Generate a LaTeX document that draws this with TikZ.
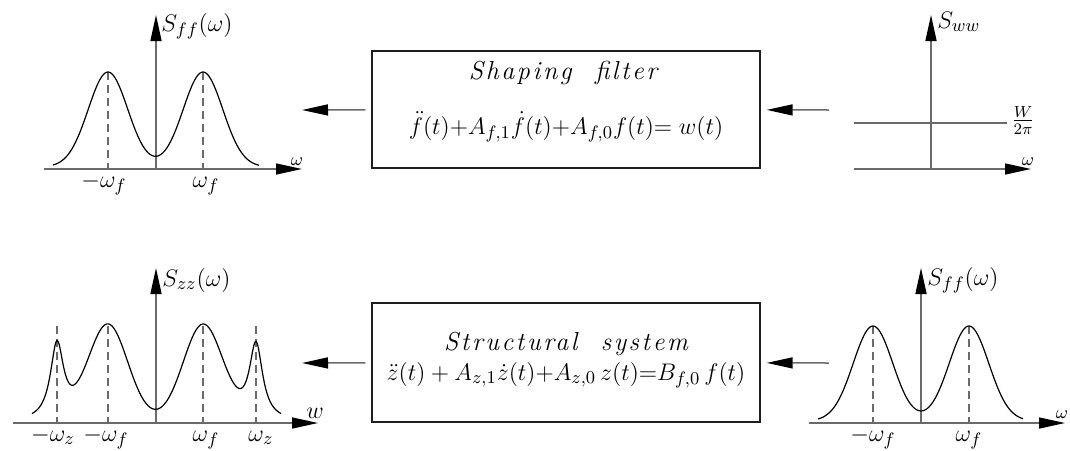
\documentclass[tikz,border=0pt]{standalone}
\usepackage{fontspec}
\usetikzlibrary{arrows.meta}
\definecolor{axisgray}{HTML}{6A6A6A}
\definecolor{ink}{HTML}{1E1E1E}
\newfontfamily\boxfont[LetterSpace=10,WordSpace=2]{Latin Modern Roman}

\begin{document}
\begin{tikzpicture}[x=0.5pt,y=-0.5pt,
 axis/.style={axisgray,line width=0.75pt,-{Triangle[length=13pt,width=5.5pt,color=black]}},
 curve/.style={black,line width=0.6pt},
 guide/.style={axisgray,line width=0.65pt,dash pattern=on 4pt off 2.5pt},
 block/.style={draw=ink,line width=0.7pt,minimum width=194pt,minimum height=58.5pt},
 flow/.style={axisgray,line width=0.75pt,-{Triangle[length=13pt,width=5.5pt,color=black]}},
 lbl/.style={inner sep=0pt,font=\fontsize{12.5}{14}\selectfont},
 ticklbl/.style={inner sep=0pt,font=\fontsize{9.5}{11}\selectfont},
 boxtitle/.style={inner sep=0pt,font=\fontsize{13}{15}\selectfont\boxfont\itshape},
 boxeq/.style={inner sep=0pt,font=\fontsize{13}{15}\selectfont},
 declare function={gs(\x,\m)=exp(-((\x-\m)/28)^2); lz(\x,\m)=77/(1+((\x-\m)/8.1)^2);}]
 \useasboundingbox (0,0) rectangle (1070,450);
 % top left: S_ff
 \draw[axis] (44,169) -- (302,169);
 \draw[axis] (156,169) -- (156,15);
 \draw[guide] (108,72) -- (108,169); \draw[guide] (203,72) -- (203,169);
 \draw[curve] plot[smooth,domain=53:259,samples=120] (\x,{167-95*(gs(\x,108)+gs(\x,203))});
 \node[lbl,anchor=base west] (sfftop) at (161,31) {$S_{ff}(\omega)$};
 \node[ticklbl,anchor=base] (omtl) at (297,165) {$\omega$};
 \node[lbl,anchor=base] (mwftl) at (104,187) {$-\omega_f$};
 \node[lbl,anchor=base] (wftl) at (206,187) {$\omega_f$};
 % shaping filter
 \node[block] (shape) at (566,109.5) {};
 \node[boxtitle,anchor=base] (shapetitle) at (563,79) {Shaping filter};
 \node[boxeq,anchor=base] (shapeeq) at (566,134) {$\ddot f(t){+}A_{f,1}\dot f(t){+}A_{f,0}f(t){=}\;w(t)$};
 \coordinate (fftip) at (302,110); \coordinate (wwtail) at (829,110);
 \draw[flow,shorten <=3pt] (shape) -- (fftip);
 \draw[flow,shorten >=3pt] (wwtail) -- (shape);
 % top right: S_ww
 \draw[axis] (854,169) -- (1031,169);
 \draw[axis] (931,169) -- (931,15);
 \draw[axisgray,line width=0.75pt] (854,123) -- (1007,123);
 \node[lbl,anchor=base west] (swwtop) at (937,28) {$S_{ww}$};
 \node[inner sep=0pt,font=\fontsize{12}{14}\selectfont] (level) at (1023,120.5) {$\frac{W}{2\pi}$};
 \node[ticklbl,anchor=base] (omtr) at (1028,165) {$\omega$};
 % bottom left: S_zz
 \draw[axis] (13,423) -- (318,423);
 \draw[axis] (156,423) -- (156,268);
 \foreach \xp in {57,108,203,256}{\draw[guide] (\xp,326) -- (\xp,423);}
 \draw[curve] plot[smooth,domain=32:281,samples=200] (\x,{421-95*(gs(\x,108)+gs(\x,203))-lz(\x,57)-lz(\x,256)});
 \node[lbl,anchor=base west] (szzbot) at (162,286) {$S_{zz}(\omega)$};
 \node[lbl,anchor=base] (wbl) at (315,418) {$w$};
 \node[lbl,anchor=base] (mwzbl) at (53,441) {$-\omega_z$};
 \node[lbl,anchor=base] (mwfbl) at (106,441) {$-\omega_f$};
 \node[lbl,anchor=base] (wfbl) at (206,441) {$\omega_f$};
 \node[lbl,anchor=base] (wzbl) at (261,441) {$\omega_z$};
 % structural system
 \node[block,minimum height=59.5pt] (struct) at (566,362.5) {};
 \node[boxtitle,anchor=base] (structtitle) at (566,350) {Structural system};
 \node[boxeq,anchor=base] (structeq) at (566,380) {$\ddot z(t)+A_{z,1}\dot z(t){+}A_{z,0}\,z(t){=}B_{f,0}\,f(t)$};
 \coordinate (zztip) at (302,363); \coordinate (fftail) at (829,363);
 \draw[flow,shorten <=3pt] (struct) -- (zztip);
 \draw[flow,shorten >=3pt] (fftail) -- (struct);
 % bottom right: S_ff
 \draw[axis] (809,423) -- (1065,423);
 \draw[axis] (921,423) -- (921,268);
 \draw[guide] (873,326) -- (873,423); \draw[guide] (969,326) -- (969,423);
 \draw[curve] plot[smooth,domain=818:1023,samples=120] (\x,{421-95*(gs(\x,873)+gs(\x,969))});
 \node[lbl,anchor=base west] (sffbot) at (927,285) {$S_{ff}(\omega)$};
 \node[ticklbl,anchor=base] (ombr) at (1062,418) {$\omega$};
 \node[lbl,anchor=base] (mwfbr) at (873,441) {$-\omega_f$};
 \node[lbl,anchor=base] (wfbr) at (969,441) {$\omega_f$};
\end{tikzpicture}
\end{document}
